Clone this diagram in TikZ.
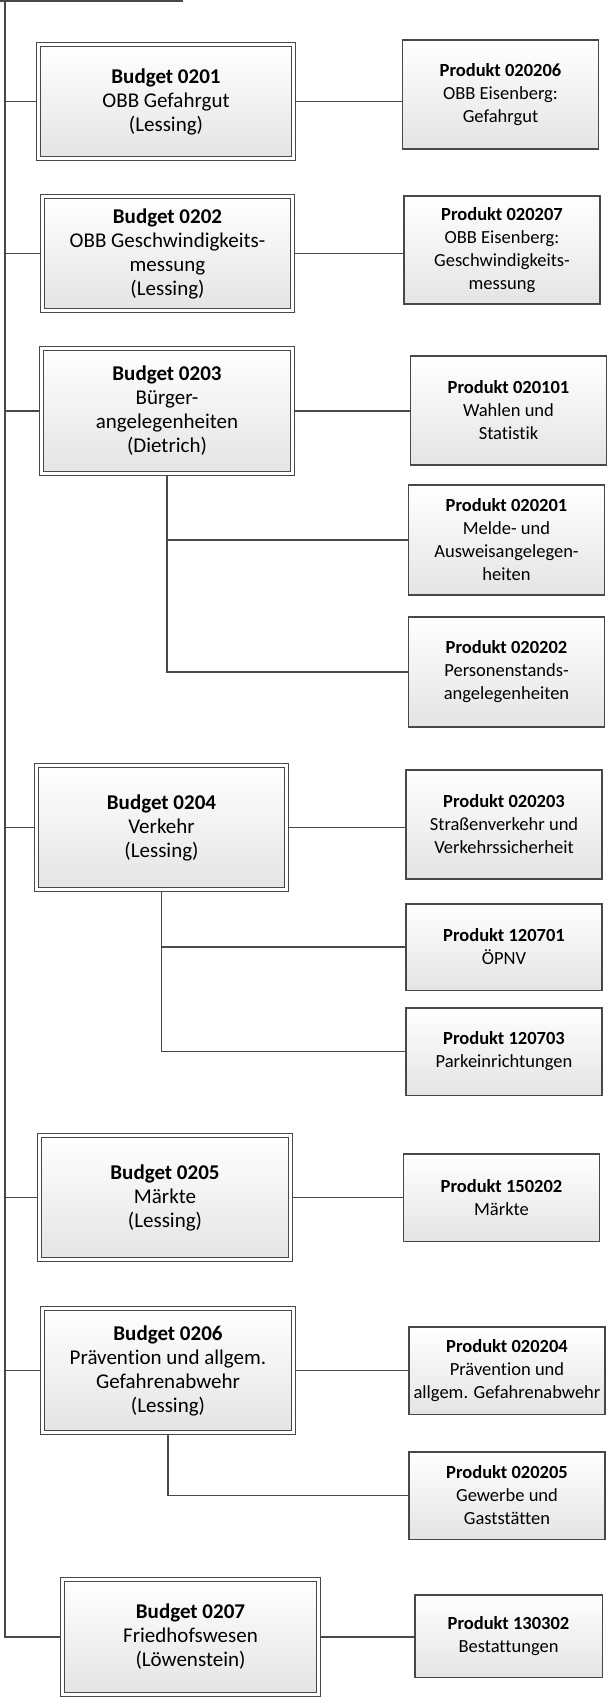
\documentclass[tikz,border=0pt]{standalone}
\usepackage{fontspec}
\setmainfont{Carlito}[Ligatures=NoCommon]
\definecolor{mylinegray}{RGB}{72,72,72}
\definecolor{myfillgray}{RGB}{228,228,228}
\newcommand\budgetfont{\fontsize{21}{24}\selectfont}
\newcommand\produktfont{\fontsize{18.5}{23}\selectfont}
\tikzset{
  budget/.style={draw=mylinegray, line width=1.2pt, double=white,
    double distance=2.4pt, outer sep=2.4pt, top color=white,
    bottom color=myfillgray, inner sep=0pt, align=center,
    minimum width=251pt, minimum height=124pt, font=\budgetfont},
  produkt/.style={draw=mylinegray, line width=1.5pt, top color=white,
    bottom color=myfillgray, inner sep=0pt, align=center,
    minimum width=196pt, minimum height=109pt, font=\produktfont},
  link/.style={draw=mylinegray, line width=1.8pt},
  trunk/.style={draw=mylinegray, line width=2pt}
}
\begin{document}
\begin{tikzpicture}[x=1pt,y=-1pt]

  \useasboundingbox (0,0) rectangle (610,1697);
  \clip (0,0) rectangle (610,1697);

  % box above (cut off)
  \node[produkt, anchor=south east, minimum width=260pt, minimum height=100pt]
    (top) at (182.5,1.5) {};
  \coordinate (trunktop) at (5,0);

  % budgets
  \node[budget, minimum width=255pt, minimum height=114pt] (b0201) at (166,101.5)
    {\textbf{Budget 0201}\\OBB Gefahrgut\\(Lessing)};
  \node[budget, minimum width=250pt, minimum height=114pt] (b0202) at (167.5,253.5)
    {\textbf{Budget 0202}\\OBB Geschwindigkeits-\\messung\\(Lessing)};
  \node[budget, minimum height=125pt] (b0203) at (167,411)
    {\textbf{Budget 0203}\\Bürger-\\angelegenheiten\\(Dietrich)};
  \node[budget, minimum width=250pt] (b0204) at (161.5,827.5)
    {\textbf{Budget 0204}\\Verkehr\\(Lessing)};
  \node[budget] (b0205) at (165,1197.5)
    {\textbf{Budget 0205}\\Märkte\\(Lessing)};
  \node[budget] (b0206) at (168,1370.5)
    {\textbf{Budget 0206}\\Prävention und allgem.\\Gefahrenabwehr\\(Lessing)};
  \node[budget, minimum width=256pt, minimum height=115pt] (b0207) at (190.5,1637)
    {\textbf{Budget 0207}\\Friedhofswesen\\(Löwenstein)};

  % produkte
  \node[produkt] (p020206) at (500.5,94.5)
    {\textbf{Produkt 020206}\\OBB Eisenberg:\\Gefahrgut};
  \node[produkt, minimum height=108pt] (p020207) at (502,250)
    {\textbf{Produkt 020207}\\OBB Eisenberg:\\Geschwindigkeits-\\messung};
  \node[produkt] (p020101) at (508.5,410.5)
    {\textbf{Produkt 020101}\\Wahlen und\\Statistik};
  \node[produkt, minimum height=110pt] (p020201) at (506.5,540)
    {\textbf{Produkt 020201}\\Melde- und\\Ausweisangelegen-\\heiten};
  \node[produkt, minimum height=110pt] (p020202) at (506.5,672)
    {\textbf{Produkt 020202}\\Personenstands-\\angelegenheiten};
  \node[produkt] (p020203) at (504,824.5)
    {\textbf{Produkt 020203}\\Straßenverkehr und\\Verkehrssicherheit};
  \node[produkt, minimum height=86.5pt] (p120701) at (504,947)
    {\textbf{Produkt 120701}\\ÖPNV};
  \node[produkt, minimum height=87.5pt] (p120703) at (504,1051.5)
    {\textbf{Produkt 120703}\\Parkeinrichtungen};
  \node[produkt, minimum height=87.5pt] (p150202) at (501.5,1197.5)
    {\textbf{Produkt 150202}\\Märkte};
  \node[produkt, minimum height=87.5pt] (p020204) at (507,1370.5)
    {\textbf{Produkt 020204}\\Prävention und\\allgem. Gefahrenabwehr};
  \node[produkt, minimum height=87.5pt] (p020205) at (507,1495.5)
    {\textbf{Produkt 020205}\\Gewerbe und\\Gaststätten};
  \node[produkt, minimum width=187.5pt, minimum height=82.5pt] (p130302) at (508.5,1636)
    {\textbf{Produkt 130302}\\Bestattungen};

  % trunk and branches
  \draw[trunk]
    (top.south -| trunktop) |- (b0207.west);
  \foreach \b in {b0201,b0202,b0203,b0204,b0205,b0206}
    \draw[link] (\b.west -| trunktop) -- (\b.west);

  % budget -> produkt
  \foreach \b/\p in {b0201/p020206,b0202/p020207,b0203/p020101,
                     b0204/p020203,b0205/p150202,b0206/p020204,b0207/p130302}
    \draw[link] (\b.east) -- (\b.east -| \p.west);

  % sub branches
  \draw[link]
    (b0203.south) |- (p020202.west);
  \draw[link]
    (b0203.south |- p020201.west) -- (p020201.west);
  \draw[link]
    (b0204.south) |- (p120703.west);
  \draw[link]
    (b0204.south |- p120701.west) -- (p120701.west);
  \draw[link]
    (b0206.south) |- (p020205.west);

\end{tikzpicture}
\end{document}
